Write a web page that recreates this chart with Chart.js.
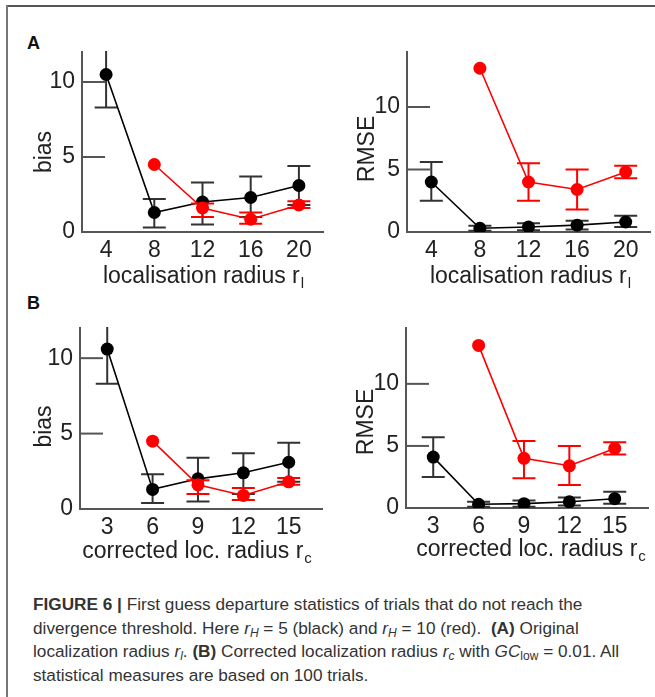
<!DOCTYPE html>
<html>
<head>
<meta charset="utf-8">
<script src="https://cdn.jsdelivr.net/npm/chart.js@4.4.0/dist/chart.umd.min.js"></script>
<style>
  html, body { margin: 0; padding: 0; background: #fff; }
  body { width: 655px; height: 697px; position: relative; overflow: hidden; font-family: "Liberation Sans", Arial, sans-serif; }
  .frame-top { position: absolute; left: 6px; top: 5px; width: 649px; height: 2px; background: #555; }
  .frame-left { position: absolute; left: 6px; top: 5px; width: 2px; height: 692px; background: #777; }
  .panel { position: absolute; font-weight: bold; font-size: 18px; line-height: 18px; color: #111; }
  canvas { position: absolute; }
  .cap { position: absolute; left: 33px; top: 593px; font-size: 17.2px; line-height: 23.7px; color: #333; white-space: nowrap; }
  .cap sub { font-size: 70%; vertical-align: -3px; line-height: 0; }
</style>
</head>
<body>
<div class="frame-top"></div>
<div class="frame-left"></div>
<div class="panel" style="left:27px; top:34px;">A</div>
<div class="panel" style="left:27px; top:294px;">B</div>
<canvas id="aBias"></canvas>
<canvas id="aRmse"></canvas>
<canvas id="bBias"></canvas>
<canvas id="bRmse"></canvas>
<div class="cap">
  <div><b>FIGURE 6 |</b> First guess departure statistics of trials that do not reach the</div>
  <div>divergence threshold. Here <i>r<sub>H</sub></i> = 5 (black) and <i>r<sub>H</sub></i> = 10 (red).&nbsp; <b>(A)</b> Original</div>
  <div>localization radius <i>r<sub>l</sub></i>. <b>(B)</b> Corrected localization radius <i>r<sub>c</sub></i> with <i>GC</i><sub>low</sub> = 0.01. All</div>
  <div>statistical measures are based on 100 trials.</div>
</div>
<script>
// x positions
const xLoc = [4, 8, 12, 16, 20];
const xCorr = [3, 6, 9, 12, 15];
const yTicks = [0, 5, 10];

// panel A, bias
const aBiasBlack = [10.5, 1.3, 2.0, 2.3, 3.1];
const aBiasBlackLo = [8.3, 0.3, 0.5, 1.0, 1.8];
const aBiasBlackHi = [12.4, 2.2, 3.3, 3.7, 4.4];
const aBiasRed = [null, 4.5, 1.6, 0.85, 1.8];
const aBiasRedLo = [null, null, 1.0, 0.55, 1.6];
const aBiasRedHi = [null, null, 1.9, 1.3, 2.05];

// panel A, RMSE
const aRmseBlack = [4.0, 0.3, 0.4, 0.55, 0.8];
const aRmseBlackLo = [2.5, 0.1, 0.15, 0.2, 0.4];
const aRmseBlackHi = [5.6, 0.5, 0.7, 0.9, 1.3];
const aRmseRed = [null, 13.1, 4.0, 3.4, 4.8];
const aRmseRedLo = [null, null, 2.5, 1.8, 4.3];
const aRmseRedHi = [null, null, 5.5, 5.0, 5.3];

// panel B, bias
const bBiasBlack = [10.6, 1.3, 2.0, 2.4, 3.1];
const bBiasBlackLo = [8.3, 0.4, 0.5, 1.0, 1.8];
const bBiasBlackHi = [12.4, 2.3, 3.4, 3.7, 4.4];
const bBiasRed = [null, 4.5, 1.6, 0.9, 1.8];
const bBiasRedLo = [null, null, 1.0, 0.6, 1.6];
const bBiasRedHi = [null, null, 1.9, 1.4, 2.05];

// panel B, RMSE
const bRmseBlack = [4.1, 0.3, 0.35, 0.5, 0.75];
const bRmseBlackLo = [2.5, 0.1, 0.1, 0.2, 0.35];
const bRmseBlackHi = [5.7, 0.5, 0.6, 0.85, 1.3];
const bRmseRed = [null, 13.1, 4.0, 3.4, 4.8];
const bRmseRedLo = [null, null, 2.4, 1.85, 4.3];
const bRmseRedHi = [null, null, 5.4, 5.0, 5.3];

const FONT = '"Liberation Sans", Arial, sans-serif';
const TXT = '#222';
const AXIS = '#555';

function pts(xs, ys) {
  return xs.map((x, i) => ({ x: x, y: ys[i] })).filter(p => p.y !== null);
}

const errorBars = {
  id: 'errorBars',
  beforeDatasetDraw(chart, args) {
    const ds = chart.data.datasets[args.index];
    if (!ds.errLo) return;
    const xs = chart.scales.x, ys = chart.scales.y, ctx = chart.ctx, a = chart.chartArea;
    ctx.save();
    ctx.beginPath();
    ctx.rect(a.left, a.top - 1, a.right - a.left + 20, a.bottom - a.top + 2);
    ctx.clip();
    ctx.strokeStyle = ds.errColor;
    ctx.lineWidth = 2;
    ds.errX.forEach((x, i) => {
      const lo = ds.errLo[i], hi = ds.errHi[i];
      if (lo == null || hi == null) return;
      const px = xs.getPixelForValue(x);
      const p1 = ys.getPixelForValue(lo), p2 = ys.getPixelForValue(hi);
      ctx.beginPath();
      ctx.moveTo(px, p1); ctx.lineTo(px, p2);
      ctx.moveTo(px - 11.5, p1); ctx.lineTo(px + 11.5, p1);
      ctx.moveTo(px - 11.5, p2); ctx.lineTo(px + 11.5, p2);
      ctx.stroke();
    });
    ctx.restore();
  }
};

// y ticks point into the plot
const innerTicks = {
  id: 'innerTicks',
  beforeDatasetsDraw(chart) {
    const y = chart.scales.y, a = chart.chartArea, ctx = chart.ctx;
    ctx.save();
    ctx.strokeStyle = AXIS;
    ctx.lineWidth = 2;
    y.ticks.forEach(t => {
      const py = y.getPixelForValue(t.value);
      ctx.beginPath();
      ctx.moveTo(a.left, py);
      ctx.lineTo(a.left + 23, py);
      ctx.stroke();
    });
    ctx.restore();
  }
};

// axis titles, x title carries a subscript
const axisTitles = {
  id: 'axisTitles',
  afterDraw(chart, args, o) {
    const ctx = chart.ctx, a = chart.chartArea;
    ctx.save();
    ctx.fillStyle = TXT;
    ctx.textBaseline = 'middle';
    ctx.textAlign = 'left';
    ctx.font = '23px ' + FONT;
    const wMain = ctx.measureText(o.x).width;
    ctx.font = '15px ' + FONT;
    const wSub = ctx.measureText(o.xSub).width;
    const x0 = (a.left + a.right) / 2 + o.xShift - (wMain + 1 + wSub) / 2;
    const y0 = a.bottom + o.xGap;
    ctx.font = '23px ' + FONT;
    ctx.fillText(o.x, x0, y0);
    ctx.font = '15px ' + FONT;
    ctx.fillText(o.xSub, x0 + wMain + 1, y0 + 7);

    ctx.translate(a.left - o.yGap, (a.top + a.bottom) / 2 + o.yShift);
    ctx.rotate(-Math.PI / 2);
    ctx.textAlign = 'center';
    ctx.font = '23px ' + FONT;
    ctx.fillText(o.y, 0, 0);
    ctx.restore();
  }
};

function makeChart(id, plot, xs, xMin, xMax, yMax, black, blackLo, blackHi, red, redLo, redHi, titles) {
  const canvas = document.getElementById(id);
  const left = plot.l - 72, top = plot.t - 22;
  const W = plot.r - left + 20, H = plot.b - top + 70;
  canvas.style.left = left + 'px';
  canvas.style.top = top + 'px';
  canvas.width = W;
  canvas.height = H;

  new Chart(canvas, {
    type: 'line',
    data: {
      datasets: [
        {
          data: pts(xs, red), errX: xs, errLo: redLo, errHi: redHi, errColor: '#ff0000',
          borderColor: '#ff0000', backgroundColor: '#ff0000', borderWidth: 1.6,
          pointRadius: 6.5, pointBorderWidth: 0, pointBackgroundColor: '#ff0000'
        },
        {
          data: pts(xs, black), errX: xs, errLo: blackLo, errHi: blackHi, errColor: '#333',
          borderColor: '#000', backgroundColor: '#000', borderWidth: 1.6,
          pointRadius: 6.5, pointBorderWidth: 0, pointBackgroundColor: '#000'
        }
      ]
    },
    options: {
      responsive: false,
      animation: false,
      events: [],
      layout: { padding: { left: 0, top: 22, right: 20, bottom: 0 } },
      plugins: {
        legend: { display: false },
        tooltip: { enabled: false },
        axisTitles: titles
      },
      scales: {
        x: {
          type: 'linear', min: xMin, max: xMax,
          afterBuildTicks: s => { s.ticks = xs.map(v => ({ value: v })); },
          afterFit: s => { s.height = 70; },
          grid: { display: false, drawTicks: false },
          border: { display: true, color: AXIS, width: 2 },
          ticks: { font: { size: 23, family: FONT }, color: TXT, padding: 5, maxRotation: 0, autoSkip: false }
        },
        y: {
          type: 'linear', min: 0, max: yMax,
          afterBuildTicks: s => { s.ticks = yTicks.map(v => ({ value: v })); },
          afterFit: s => { s.width = 72; },
          grid: { display: false, drawTicks: false },
          border: { display: true, color: AXIS, width: 2 },
          ticks: { font: { size: 23, family: FONT }, color: TXT, padding: 7 }
        }
      }
    },
    plugins: [errorBars, innerTicks, axisTitles]
  });
}

makeChart('aBias', { l: 82, r: 323, t: 52, b: 232 }, xLoc, 2, 22, 12,
  aBiasBlack, aBiasBlackLo, aBiasBlackHi, aBiasRed, aBiasRedLo, aBiasRedHi,
  { x: 'localisation radius r', xSub: 'l', xGap: 45, xShift: 1, y: 'bias', yGap: 37, yShift: 10 });

makeChart('aRmse', { l: 407, r: 650, t: 52, b: 232 }, xLoc, 2, 22, 14.4,
  aRmseBlack, aRmseBlackLo, aRmseBlackHi, aRmseRed, aRmseRedLo, aRmseRedHi,
  { x: 'localisation radius r', xSub: 'l', xGap: 45, xShift: 2, y: 'RMSE', yGap: 39, yShift: 7 });

makeChart('bBias', { l: 80, r: 322, t: 328, b: 509 }, xCorr, 1.2, 17.2, 12,
  bBiasBlack, bBiasBlackLo, bBiasBlackHi, bBiasRed, bBiasRedLo, bBiasRedHi,
  { x: 'corrected loc. radius r', xSub: 'c', xGap: 43, xShift: -4, y: 'bias', yGap: 35, yShift: 8 });

makeChart('bRmse', { l: 406, r: 648, t: 328, b: 508 }, xCorr, 1.2, 17.2, 14.5,
  bRmseBlack, bRmseBlackLo, bRmseBlackHi, bRmseRed, bRmseRedLo, bRmseRedHi,
  { x: 'corrected loc. radius r', xSub: 'c', xGap: 42, xShift: 4, y: 'RMSE', yGap: 39, yShift: 4 });
</script>
</body>
</html>
